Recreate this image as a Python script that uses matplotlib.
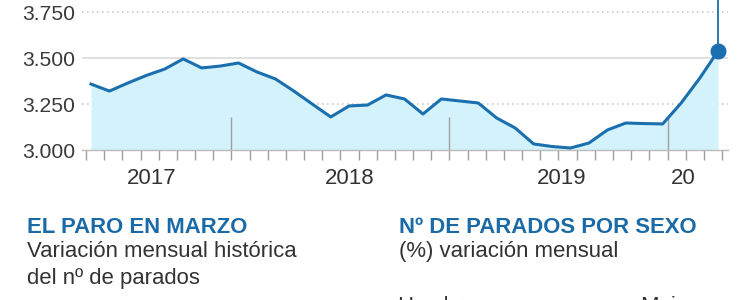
import matplotlib
matplotlib.use("Agg")
import matplotlib.pyplot as plt
import numpy as np

plt.rcParams['font.family'] = ['Liberation Sans', 'DejaVu Sans']

# Registered unemployed (thousands), monthly
paro = [3359, 3321, 3365, 3406, 3441, 3496, 3447, 3457, 3474, 3425,
        3387, 3321, 3250, 3180, 3240, 3245, 3300, 3278, 3196, 3278,
        3267, 3256, 3174, 3120, 3033, 3019, 3011, 3038, 3109, 3147,
        3144, 3142, 3256, 3390, 3539]
y_ticks = [3000, 3250, 3500, 3750]
y_labels = ['3.000', '3.250', '3.500', '3.750']
year_labels = ['2017', '2018', '2019', '20']
year_pos = [3.31, 14.05, 25.54, 32.1]
n_ticks = 36
tall_idx = [8, 20, 32]

LINE = '#1a6fae'
FILL = '#d3f2fc'
GREY = '#333333'

fig = plt.figure(figsize=(7.46, 3.0), dpi=100)
ax = fig.add_axes([82/746, 0.5, (728-82)/746, 0.5])
x = np.arange(len(paro))
ymax = 3000 + 150 * 5.446
ax.set_xlim(-0.488, 34.54)
ax.set_ylim(3000, ymax)

# grid
ax.axhline(3500, color='#dddddd', lw=1.3, zorder=0)
for g in (3250, 3750):
    ax.axhline(g, color='#cccccc', lw=1.2, ls=(0, (1, 2)), zorder=0)

ax.fill_between(x, paro, 3000, color=FILL, lw=0, zorder=1)
ax.plot(x, paro, color=LINE, lw=2.2, zorder=3, solid_joinstyle='round')
ax.vlines(x[-1], paro[-1], ymax, color=LINE, lw=1.3, zorder=3)
ax.plot(x[-1], paro[-1], 'o', color=LINE, ms=10.5, zorder=4)

# x ticks
ticks = (-5 + 18.17 * np.arange(n_ticks)) / 18.44
ax.set_xticks(ticks)
ax.set_xticklabels([])
ax.tick_params(axis='x', length=7.5, width=1, color='#a0a0a0', direction='out')
ax.vlines(ticks[tall_idx], 3000, 3180, color='#a0a0a0', lw=1, zorder=2)
for lab, p in zip(year_labels, year_pos):
    ax.text(p, -0.19, lab, transform=ax.get_xaxis_transform(), ha='center',
            va='center', fontsize=16, color=GREY)

ax.set_yticks(y_ticks)
ax.set_yticklabels(y_labels)
ax.tick_params(axis='y', length=0, pad=5, labelsize=15.2, labelcolor='#3a3a3a')
for s in ('top', 'right', 'left'):
    ax.spines[s].set_visible(False)
ax.spines['bottom'].set_color('#bbbbbb')
ax.spines['bottom'].set_linewidth(1)

def fy(py):
    return 1 - py / 300

BLUE = '#1b6aa8'
FS = 15.9
fig.text(27/746, fy(233), 'EL PARO EN MARZO', fontsize=FS, fontweight='bold',
         color=BLUE, va='baseline')
fig.text(27/746, fy(257), 'Variación mensual histórica', fontsize=FS,
         color=GREY, va='baseline')
fig.text(27/746, fy(284), 'del nº de parados', fontsize=FS, color=GREY,
         va='baseline')
fig.text(399/746, fy(233), 'Nº DE PARADOS POR SEXO', fontsize=FS,
         fontweight='bold', color=BLUE, va='baseline')
fig.text(399/746, fy(257), '(%) variación mensual', fontsize=FS, color=GREY,
         va='baseline')
fig.text(397/746, fy(312), 'Hombres', fontsize=FS, color=GREY, va='baseline')
fig.text(640/746, fy(312), 'Mujeres', fontsize=FS, color=GREY, va='baseline')

fig.savefig('out.png', dpi=100)
